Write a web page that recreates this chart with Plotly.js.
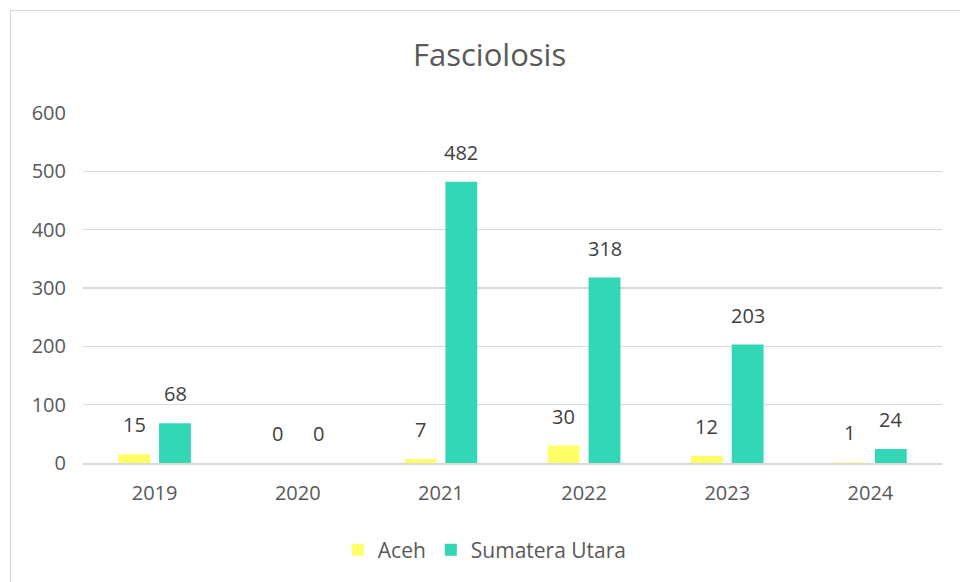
<!DOCTYPE html>
<html>
<head>
<meta charset="utf-8">
<script src="https://cdn.plot.ly/plotly-3.0.1.min.js"></script>
<style>
  html, body { margin: 0; padding: 0; background: #fff; overflow: hidden; }
  #wrap { position: relative; width: 960px; height: 582px; }
  #frame { position: absolute; left: 10px; top: 10px; width: 980px; height: 600px; border: 1px solid #d9d9d9; pointer-events: none; z-index: 2; }
  #chart { position: absolute; left: 0; top: 0; width: 960px; height: 582px; }
</style>
</head>
<body>
<div id="wrap">
  <div id="chart"></div>
  <div id="frame"></div>
</div>
<script>
const years = ['2019', '2020', '2021', '2022', '2023', '2024'];
const aceh = [15, 0, 7, 30, 12, 1];
const sumut = [68, 0, 482, 318, 203, 24];
const seriesNames = ['Aceh', 'Sumatera Utara'];
const colors = ['#ffff66', '#33d6b5'];
const yTicks = [0, 100, 200, 300, 400, 500, 600];

const FONT = 'Open Sans, Calibri, sans-serif';
const TXT = '#595959';

const traces = [
  { type: 'bar', name: seriesNames[0], x: years, y: aceh, marker: { color: colors[0] }, hoverinfo: 'x+y+name' },
  { type: 'bar', name: seriesNames[1], x: years, y: sumut, marker: { color: colors[1] }, hoverinfo: 'x+y+name' }
];

const annotations = [];
[aceh, sumut].forEach((vals, si) => {
  vals.forEach((v, i) => {
    annotations.push({
      x: i, y: v, xref: 'x', yref: 'y',
      text: String(v), showarrow: false,
      xanchor: 'center', yanchor: 'bottom',
      xshift: si === 0 ? -20.5 : 20.5, yshift: 14,
      font: { family: FONT, size: 20, color: '#404040' }
    });
  });
});

const layout = {
  width: 960, height: 582,
  margin: { l: 83, r: 18, t: 113, b: 119 },
  paper_bgcolor: 'rgba(0,0,0,0)', plot_bgcolor: '#fff',
  title: { text: 'Fasciolosis', xref: 'container', x: 0.51, xanchor: 'center', yref: 'container', y: 0.905, yanchor: 'middle',
           font: { family: FONT, size: 31, color: TXT } },
  barmode: 'group', bargap: 0.43, bargroupgap: 0.22,
  xaxis: { type: 'category', range: [-0.5, years.length - 0.5], autorange: false, showgrid: false, showline: true,
           linecolor: '#d9d9d9', linewidth: 1.5,
           ticks: '', tickfont: { family: FONT, size: 20, color: TXT }, ticklabelstandoff: 11, fixedrange: true },
  yaxis: { range: [0, 600], autorange: false, tickvals: yTicks, ticktext: yTicks.map(String), showgrid: true, gridcolor: '#d9d9d9', gridwidth: 1.5,
           zeroline: false, showline: false, ticks: '', tickfont: { family: FONT, size: 20, color: TXT },
           ticklabelstandoff: 16, fixedrange: true },
  showlegend: true,
  legend: { orientation: 'h', xref: 'container', x: 0.505, xanchor: 'center', yref: 'container', y: 0.055, yanchor: 'middle',
            font: { family: FONT, size: 21, color: TXT }, itemwidth: 30, tracegroupgap: 0, itemsizing: 'constant' },
  annotations: annotations
};

Plotly.newPlot('chart', traces, layout, { displayModeBar: false, staticPlot: true });
</script>
</body>
</html>
